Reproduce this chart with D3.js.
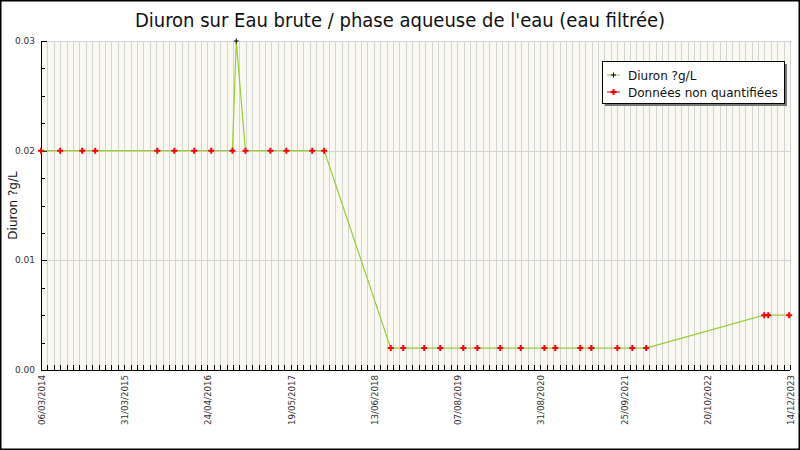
<!DOCTYPE html>
<html>
<head>
<meta charset="utf-8">
<script src="https://cdn.jsdelivr.net/npm/d3@7"></script>
<style>
  body { margin: 0; background: #fff; }
  text { font-family: "DejaVu Sans", sans-serif; }
</style>
</head>
<body>
<div id="chart"></div>
<script>
// Tick labels as printed under the x axis (equally spaced on the chart)
const xTickLabels = ['06/03/2014', '31/03/2015', '24/04/2016', '19/05/2017', '13/06/2018',
  '07/08/2019', '31/08/2020', '25/09/2021', '20/10/2022', '14/12/2023'];
const yTickValues = [0, 0.01, 0.02, 0.03];

// Sample dates and results
const sampleDates = ['2014-03-06', '2014-06-04', '2014-09-15', '2014-11-15', '2015-09-02',
  '2015-11-21', '2016-02-22', '2016-05-12', '2016-08-19', '2016-09-06', '2016-10-19',
  '2017-02-13', '2017-04-29', '2017-08-28', '2017-10-23', '2018-09-06', '2018-11-08',
  '2019-02-22', '2019-05-14', '2019-09-05', '2019-11-10', '2020-02-25', '2020-05-31',
  '2020-09-19', '2020-11-09', '2021-03-06', '2021-04-27', '2021-08-27', '2021-11-05',
  '2022-01-09', '2023-08-06', '2023-08-26', '2023-12-10'];
const sampleValues = [0.02, 0.02, 0.02, 0.02, 0.02, 0.02, 0.02, 0.02, 0.02, 0.03, 0.02,
  0.02, 0.02, 0.02, 0.02, 0.002, 0.002, 0.002, 0.002, 0.002, 0.002, 0.002, 0.002,
  0.002, 0.002, 0.002, 0.002, 0.002, 0.002, 0.002, 0.005, 0.005, 0.005];
// true = quantified result, false = "données non quantifiées"
const sampleQuantified = sampleValues.map(v => v === 0.03);

const seriesNames = ['Diuron ?g/L', 'Données non quantifiées'];

const width = 800, height = 450;
const margin = { top: 41, right: 10, bottom: 80, left: 41 };
const plotW = width - margin.left - margin.right;
const plotH = height - margin.top - margin.bottom;
const minorPerMajor = 13;

const parseLabel = d3.timeParse('%d/%m/%Y');
const parseIso = d3.timeParse('%Y-%m-%d');

const svg = d3.select('#chart').append('svg')
  .attr('width', width)
  .attr('height', height);

svg.append('rect')
  .attr('x', 0.5).attr('y', 0.5)
  .attr('width', width - 1).attr('height', height - 1)
  .attr('fill', '#fff').attr('stroke', '#000').attr('stroke-width', 2);

// piecewise time scale: the labels sit at equal spacing
const x = d3.scaleTime()
  .domain(xTickLabels.map(parseLabel))
  .range(xTickLabels.map((d, i) => margin.left + i * plotW / (xTickLabels.length - 1)));

const y = d3.scaleLinear()
  .domain([0, 0.03])
  .range([margin.top + plotH, margin.top]);

const g = svg.append('g');

g.append('rect')
  .attr('x', margin.left).attr('y', margin.top)
  .attr('width', plotW).attr('height', plotH)
  .attr('fill', '#f9f9f2');

// vertical grid: minor steps between labels
const nMinor = (xTickLabels.length - 1) * minorPerMajor;
const minorX = d3.scaleLinear().domain([0, nMinor]).range([margin.left, margin.left + plotW]);
const minorIdx = d3.range(nMinor + 1);

g.append('g').selectAll('line')
  .data(minorIdx.slice(1))
  .join('line')
    .attr('x1', d => Math.round(minorX(d)) + 0.5)
    .attr('x2', d => Math.round(minorX(d)) + 0.5)
    .attr('y1', margin.top)
    .attr('y2', margin.top + plotH)
    .attr('stroke', '#d4d4d4');

g.append('g').selectAll('line')
  .data(yTickValues.slice(1))
  .join('line')
    .attr('x1', margin.left)
    .attr('x2', margin.left + plotW)
    .attr('y1', d => Math.round(y(d)) + 0.5)
    .attr('y2', d => Math.round(y(d)) + 0.5)
    .attr('stroke', '#d4d4d4');

// axes
const axisG = g.append('g').attr('stroke', '#000');
axisG.append('line')
  .attr('x1', margin.left + 0.5).attr('x2', margin.left + 0.5)
  .attr('y1', margin.top).attr('y2', margin.top + plotH);
axisG.append('line')
  .attr('x1', margin.left).attr('x2', margin.left + plotW)
  .attr('y1', margin.top + plotH + 0.5).attr('y2', margin.top + plotH + 0.5);

// x ticks (pointing up, inside)
axisG.selectAll('.xt')
  .data(minorIdx)
  .join('line')
    .attr('class', 'xt')
    .attr('x1', d => Math.round(minorX(d)) + 0.5)
    .attr('x2', d => Math.round(minorX(d)) + 0.5)
    .attr('y1', margin.top + plotH)
    .attr('y2', margin.top + plotH - 5);

// y ticks (pointing right, inside)
const yMinor = d3.range(0, 0.03 + 1e-9, 0.0025);
axisG.selectAll('.yt')
  .data(yMinor)
  .join('line')
    .attr('class', 'yt')
    .attr('x1', margin.left)
    .attr('x2', d => margin.left + (yTickValues.some(v => Math.abs(v - d) < 1e-9) ? 6 : 4))
    .attr('y1', d => Math.round(y(d)) + 0.5)
    .attr('y2', d => Math.round(y(d)) + 0.5);

g.append('g').selectAll('text')
  .data(yTickValues)
  .join('text')
    .attr('x', margin.left - 6)
    .attr('y', d => y(d) + 3)
    .attr('text-anchor', 'end')
    .attr('font-size', 9)
    .attr('fill', '#333')
    .text(d => d3.format('.2f')(d));

g.append('g').selectAll('text')
  .data(xTickLabels)
  .join('text')
    .attr('transform', d => `translate(${x(parseLabel(d)) + 4},${margin.top + plotH + 5}) rotate(-90)`)
    .attr('text-anchor', 'end')
    .attr('font-size', 8.7)
    .attr('fill', '#333')
    .text(d => d);

// series
const points = sampleDates.map((d, i) => ({
  date: parseIso(d), value: sampleValues[i], quantified: sampleQuantified[i]
}));

g.append('path')
  .datum(points)
  .attr('fill', 'none')
  .attr('stroke', '#9acd32')
  .attr('stroke-width', 1.2)
  .attr('d', d3.line().x(d => x(d.date)).y(d => y(d.value)));

const redMark = 'M-1,-3H1V-1H3V1H1V3H-1V1H-3V-1H-1Z';
const blackMark = 'M-2.5,0H2.5M0,-2.5V2.5';

g.append('g').selectAll('path')
  .data(points.filter(p => !p.quantified))
  .join('path')
    .attr('transform', d => `translate(${x(d.date)},${y(d.value)})`)
    .attr('d', redMark)
    .attr('fill', '#ff0000');

g.append('g').selectAll('path')
  .data(points.filter(p => p.quantified))
  .join('path')
    .attr('transform', d => `translate(${x(d.date)},${y(d.value)})`)
    .attr('d', blackMark)
    .attr('stroke', '#000')
    .attr('stroke-width', 1);

// title and y label
svg.append('text')
  .attr('x', width / 2)
  .attr('y', 27)
  .attr('text-anchor', 'middle')
  .attr('font-size', 20)
  .style('font-family', '"DejaVu Sans Condensed", "DejaVu Sans", sans-serif')
  .style('font-stretch', 'condensed')
  .attr('fill', '#111')
  .text('Diuron sur Eau brute / phase aqueuse de l\'eau (eau filtrée)');

svg.append('text')
  .attr('transform', `translate(17,${margin.top + plotH / 2}) rotate(-90)`)
  .attr('text-anchor', 'middle')
  .attr('font-size', 12)
  .attr('fill', '#111')
  .text(seriesNames[0]);

// legend
const lg = svg.append('g').attr('transform', 'translate(602,61)');
lg.append('rect').attr('x', 3).attr('y', 3).attr('width', 182).attr('height', 42).attr('fill', '#777');
lg.append('rect').attr('x', 0.5).attr('y', 0.5).attr('width', 182).attr('height', 42)
  .attr('fill', '#fff').attr('stroke', '#000');

const legendRows = lg.selectAll('g.row')
  .data(seriesNames)
  .join('g')
    .attr('class', 'row')
    .attr('transform', (d, i) => `translate(0,${14 + i * 17})`);

legendRows.append('line')
  .attr('x1', 5).attr('x2', 18)
  .attr('stroke', (d, i) => i === 0 ? '#9acd32' : '#ff0000');
legendRows.append('path')
  .attr('transform', 'translate(11.5,0)')
  .attr('d', (d, i) => i === 0 ? blackMark : redMark)
  .attr('fill', (d, i) => i === 0 ? 'none' : '#ff0000')
  .attr('stroke', (d, i) => i === 0 ? '#000' : 'none');
legendRows.append('text')
  .attr('x', 26)
  .attr('y', 4.5)
  .attr('font-size', 12)
  .attr('fill', '#111')
  .text(d => d);
</script>
</body>
</html>
